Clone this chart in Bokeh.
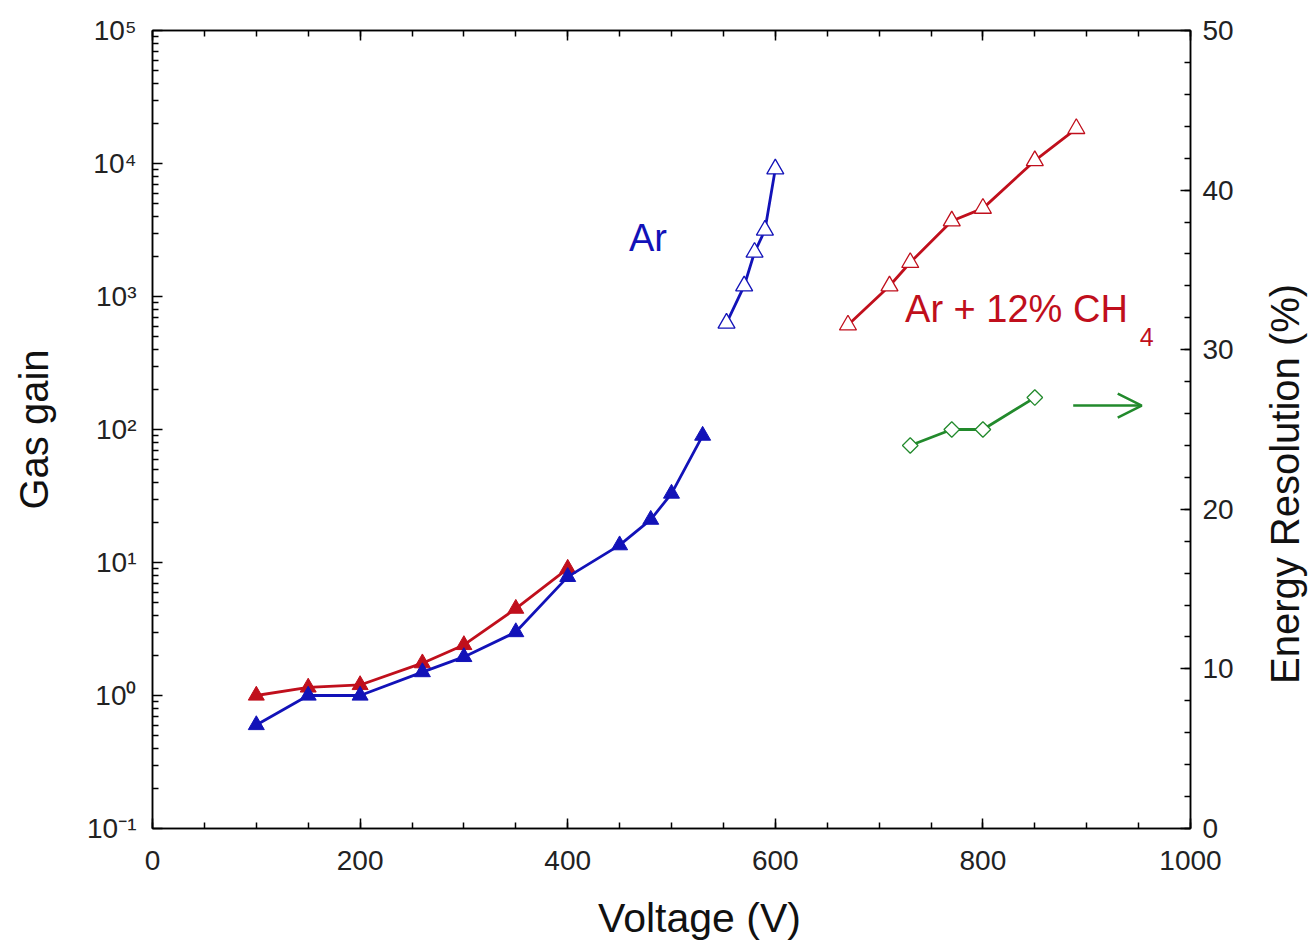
import math
from bokeh.plotting import figure
from bokeh.layouts import row, column
from bokeh.models import (LinearAxis, Range1d, FixedTicker, CustomJSTickFormatter,
                          Arrow, OpenHead, ColumnDataSource, LinearScale)
from bokeh.core.properties import value
from bokeh.embed import file_html
from bokeh.resources import INLINE

# ---- data ----
ar_low_v = [100, 150, 200, 260, 300, 350, 400, 450, 480, 500, 530]
ar_low_gain = [0.6, 1.0, 1.0, 1.5, 1.95, 3.0, 7.8, 13.5, 21, 33, 90]
mix_low_v = [100, 150, 200, 260, 300, 350, 400]
mix_low_gain = [1.0, 1.15, 1.2, 1.75, 2.4, 4.5, 9.0]
ar_high_v = [553, 570, 580, 590, 600]
ar_high_gain = [630, 1200, 2150, 3150, 9100]
mix_high_v = [670, 710, 730, 770, 800, 850, 890]
mix_high_gain = [610, 1200, 1800, 3700, 4600, 10500, 18300]
res_v = [730, 770, 800, 850]
res_pct = [24.0, 25.0, 25.0, 27.0]

x_ticks = [0, 200, 400, 600, 800, 1000]
y_ticks = [0.1, 1, 10, 100, 1000, 10000, 100000]
res_ticks = [0, 10, 20, 30, 40, 50]

BLUE = "#1212b8"
RED = "#c00f1c"
GREEN = "#228a2c"
FONT = "Liberation Sans"

MAIN_W, MAIN_H = 1262, 894

p = figure(width=MAIN_W, height=MAIN_H, x_range=Range1d(0, 1000), y_range=Range1d(0.1, 1e5),
           y_axis_type="log", output_backend="svg", toolbar_location=None,
           min_border_left=152, min_border_right=72, min_border_top=30, min_border_bottom=66)
p.extra_y_ranges = {"res": Range1d(0, 50)}
p.extra_y_scales = {"res": LinearScale()}
p.grid.visible = False
p.outline_line_color = "black"
p.outline_line_width = 1.5
p.background_fill_color = "white"
p.border_fill_color = "white"

x_minor = list(range(0, 1001, 50))
y_minor = [m * 10.0 ** e for e in range(-1, 5) for m in range(2, 10)]
res_minor = list(range(0, 51, 2))

def style_axis(ax):
    ax.axis_line_color = "black"
    ax.axis_line_width = 1.5
    ax.major_tick_line_color = "black"
    ax.minor_tick_line_color = "black"
    ax.major_tick_line_width = 1.5
    ax.minor_tick_line_width = 1.5
    ax.major_tick_in = 10
    ax.major_tick_out = 0
    ax.minor_tick_in = 6
    ax.minor_tick_out = 0
    ax.major_label_text_font = FONT
    ax.major_label_text_font_size = "28px"
    ax.major_label_text_color = "#222222"
    ax.axis_label_text_font = FONT
    ax.axis_label_text_font_style = "normal"
    ax.axis_label_text_font_size = "40px"
    ax.axis_label_text_color = "#111111"

# bottom axis
xa = p.xaxis[0]
xa.ticker = FixedTicker(ticks=x_ticks, minor_ticks=x_minor)
style_axis(xa)
xa.major_label_standoff = 22

# left log axis
ya = p.yaxis[0]
ya.ticker = FixedTicker(ticks=y_ticks, minor_ticks=y_minor)
ya.formatter = CustomJSTickFormatter(code="""
const e = Math.round(Math.log10(tick));
const sup = {'-':'\u207b','0':'\u2070','1':'\u00b9','2':'\u00b2','3':'\u00b3','4':'\u2074','5':'\u2075','6':'\u2076','7':'\u2077','8':'\u2078','9':'\u2079'};
return '10' + String(e).split('').map(c => sup[c]).join('');
""")
style_axis(ya)
ya.major_label_standoff = 16
ya.axis_label = "Gas gain"
ya.axis_label_standoff = 28

# right axis
ra = LinearAxis(y_range_name="res", ticker=FixedTicker(ticks=res_ticks, minor_ticks=res_minor))
style_axis(ra)
ra.major_label_standoff = 12
p.add_layout(ra, "right")

# top axis (ticks only)
ta = LinearAxis(ticker=FixedTicker(ticks=x_ticks, minor_ticks=x_minor))
style_axis(ta)
ta.major_label_text_font_size = "0px"
ta.major_label_text_alpha = 0
p.add_layout(ta, "above")

# ---- series ----
src_ar_low = ColumnDataSource(dict(x=ar_low_v, y=ar_low_gain))
src_mix_low = ColumnDataSource(dict(x=mix_low_v, y=mix_low_gain))
src_ar_high = ColumnDataSource(dict(x=ar_high_v, y=ar_high_gain))
src_mix_high = ColumnDataSource(dict(x=mix_high_v, y=mix_high_gain))
src_res = ColumnDataSource(dict(x=res_v, y=res_pct))

p.line("x", "y", source=src_mix_low, line_color=RED, line_width=2.8)
p.scatter("x", "y", source=src_mix_low, marker="triangle", size=16,
          fill_color=RED, line_color=RED, line_width=1)
p.line("x", "y", source=src_ar_low, line_color=BLUE, line_width=2.8)
p.scatter("x", "y", source=src_ar_low, marker="triangle", size=16,
          fill_color=BLUE, line_color=BLUE, line_width=1)

p.line("x", "y", source=src_ar_high, line_color=BLUE, line_width=2.8)
p.scatter("x", "y", source=src_ar_high, marker="triangle", size=17,
          fill_color="white", line_color=BLUE, line_width=1.3)
p.line("x", "y", source=src_mix_high, line_color=RED, line_width=2.8)
p.scatter("x", "y", source=src_mix_high, marker="triangle", size=17,
          fill_color="white", line_color=RED, line_width=1.3)

p.line("x", "y", source=src_res, y_range_name="res", line_color=GREEN, line_width=2.8)
p.scatter("x", "y", source=src_res, y_range_name="res", marker="square", angle=0.7854,
          size=11, fill_color="white", line_color=GREEN, line_width=1.3)

# ---- in-plot labels ----
p.text(x=[459], y=[2750], text=["Ar"], text_color=BLUE, text_font=value(FONT),
       text_font_size=value("38px"), text_baseline="middle", text_align="left")
p.text(x=[725], y=[810], text=["Ar + 12% CH"], text_color=RED, text_font=value(FONT),
       text_font_size=value("38px"), text_baseline="middle", text_align="left")
p.text(x=[951], y=[500], text=["4"], text_color=RED, text_font=value(FONT),
       text_font_size=value("25px"), text_baseline="middle", text_align="left")

p.add_layout(Arrow(end=OpenHead(size=24, line_color=GREEN, line_width=2.5),
                   x_start=887, y_start=26.5, x_end=953, y_end=26.5,
                   line_color=GREEN, line_width=2.5, y_range_name="res"))

# ---- axis titles in side strips (placed off-centre as in the reference) ----
def strip(w, h):
    s = figure(width=w, height=h, x_range=Range1d(0, w), y_range=Range1d(0, h),
               output_backend="svg", toolbar_location=None,
               x_axis_location=None, y_axis_location=None,
               min_border=0, min_border_left=0, min_border_right=0,
               min_border_top=0, min_border_bottom=0)
    s.grid.visible = False
    s.outline_line_color = None
    s.background_fill_color = "white"
    s.border_fill_color = "white"
    return s

RW = 1310 - MAIN_W
pr = strip(RW, MAIN_H)
pr.text(x=[RW / 2 - 2], y=[MAIN_H - 508], text=["Energy Resolution (%)"], angle=math.pi / 2,
        text_color="#111111", text_font=value(FONT), text_font_size=value("40px"),
        text_align="center", text_baseline="middle")

BH = 942 - MAIN_H
pb = strip(1310, BH)
pb.text(x=[699], y=[BH / 2 + 1], text=["Voltage (V)"],
        text_color="#111111", text_font=value(FONT), text_font_size=value("41px"),
        text_align="center", text_baseline="middle")

layout = column(row(p, pr), pb)
open("out.html", "w").write(file_html(layout, INLINE))
